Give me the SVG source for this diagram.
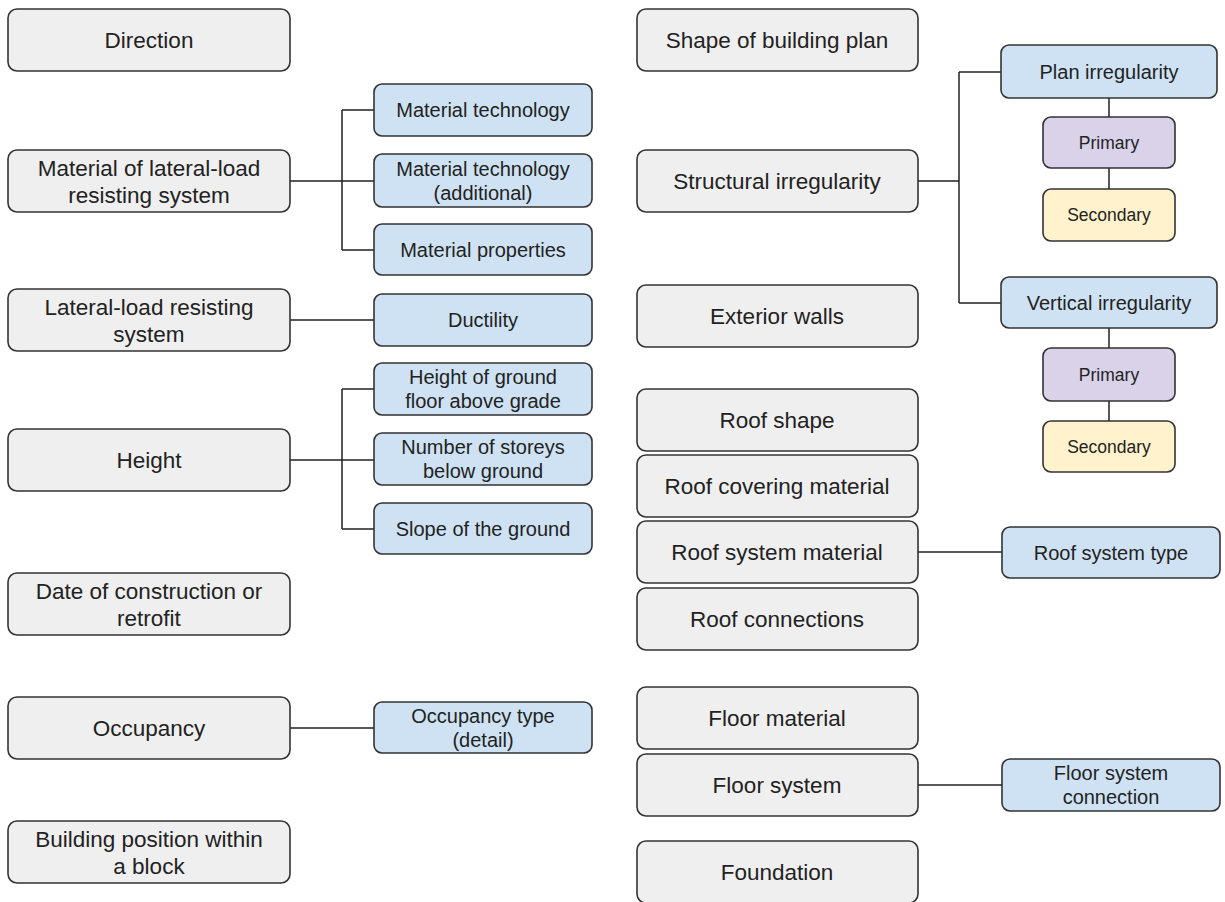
<svg xmlns="http://www.w3.org/2000/svg" width="1225" height="902" viewBox="0 0 1225 902">
<style>
rect{stroke:#333;stroke-width:1.6}
.g{fill:#efefef}
.b{fill:#cfe2f3}
.p{fill:#d9d2e9}
.y{fill:#fff2cc}
text{font-family:"Liberation Sans",Arial,sans-serif;fill:#222;text-anchor:middle;dominant-baseline:central}
.t1{font-size:22.5px}
.t2{font-size:20px}
.t3{font-size:17.5px}
.c{fill:none;stroke:#222;stroke-width:1.5}
</style>
<rect width="1225" height="902" fill="#fff" style="stroke:none"/>
<g id="connectors">
<path class="c" d="M290 181H342M342 110V250M342 110H374M342 181H374M342 250H374"/>
<path class="c" d="M290 320H374"/>
<path class="c" d="M290 460H342M342 389V529M342 389H374M342 460H374M342 529H374"/>
<path class="c" d="M290 728H374"/>
<path class="c" d="M918 181H959M959 72V303M959 72H1001M959 303H1001"/>
<path class="c" d="M1109 98V117M1109 168V189M1109 328V348M1109 401V421"/>
<path class="c" d="M918 552H1002"/>
<path class="c" d="M918 785H1002"/>
</g>
<g id="n-direction"><rect class="g" x="8" y="9" width="282" height="62" rx="9"/><text class="t1" x="149" y="40">Direction</text></g>
<g id="n-material"><rect class="g" x="8" y="150" width="282" height="62" rx="9"/><text class="t1" x="149" y="168">Material of lateral-load</text><text class="t1" x="149" y="195">resisting system</text></g>
<g id="n-llrs"><rect class="g" x="8" y="289" width="282" height="62" rx="9"/><text class="t1" x="149" y="307">Lateral-load resisting</text><text class="t1" x="149" y="334">system</text></g>
<g id="n-height"><rect class="g" x="8" y="429" width="282" height="62" rx="9"/><text class="t1" x="149" y="460">Height</text></g>
<g id="n-date"><rect class="g" x="8" y="573" width="282" height="62" rx="9"/><text class="t1" x="149" y="591">Date of construction or</text><text class="t1" x="149" y="618">retrofit</text></g>
<g id="n-occupancy"><rect class="g" x="8" y="697" width="282" height="62" rx="9"/><text class="t1" x="149" y="728">Occupancy</text></g>
<g id="n-position"><rect class="g" x="8" y="821" width="282" height="62" rx="9"/><text class="t1" x="149" y="839">Building position within</text><text class="t1" x="149" y="866">a block</text></g>

<g id="n-mattech"><rect class="b" x="374" y="84" width="218" height="52" rx="8"/><text class="t2" x="483" y="110">Material technology</text></g>
<g id="n-mattechadd"><rect class="b" x="374" y="154" width="218" height="53" rx="8"/><text class="t2" x="483" y="169">Material technology</text><text class="t2" x="483" y="193">(additional)</text></g>
<g id="n-matprop"><rect class="b" x="374" y="224" width="218" height="51" rx="8"/><text class="t2" x="483" y="250">Material properties</text></g>
<g id="n-ductility"><rect class="b" x="374" y="294" width="218" height="52" rx="8"/><text class="t2" x="483" y="320">Ductility</text></g>
<g id="n-hgf"><rect class="b" x="374" y="363" width="218" height="52" rx="8"/><text class="t2" x="483" y="377">Height of ground</text><text class="t2" x="483" y="401">floor above grade</text></g>
<g id="n-storeys"><rect class="b" x="374" y="433" width="218" height="52" rx="8"/><text class="t2" x="483" y="447">Number of storeys</text><text class="t2" x="483" y="471">below ground</text></g>
<g id="n-slope"><rect class="b" x="374" y="503" width="218" height="51" rx="8"/><text class="t2" x="483" y="529">Slope of the ground</text></g>
<g id="n-occtype"><rect class="b" x="374" y="702" width="218" height="51" rx="8"/><text class="t2" x="483" y="716">Occupancy type</text><text class="t2" x="483" y="740">(detail)</text></g>

<g id="n-shape"><rect class="g" x="637" y="9" width="281" height="62" rx="9"/><text class="t1" x="777" y="40">Shape of building plan</text></g>
<g id="n-structirr"><rect class="g" x="637" y="150" width="281" height="62" rx="9"/><text class="t1" x="777" y="181">Structural irregularity</text></g>
<g id="n-extwalls"><rect class="g" x="637" y="285" width="281" height="62" rx="9"/><text class="t1" x="777" y="316">Exterior walls</text></g>
<g id="n-roofshape"><rect class="g" x="637" y="389" width="281" height="62" rx="9"/><text class="t1" x="777" y="420">Roof shape</text></g>
<g id="n-roofcover"><rect class="g" x="637" y="455" width="281" height="62" rx="9"/><text class="t1" x="777" y="486">Roof covering material</text></g>
<g id="n-roofsys"><rect class="g" x="637" y="521" width="281" height="62" rx="9"/><text class="t1" x="777" y="552">Roof system material</text></g>
<g id="n-roofconn"><rect class="g" x="637" y="588" width="281" height="62" rx="9"/><text class="t1" x="777" y="619">Roof connections</text></g>
<g id="n-floormat"><rect class="g" x="637" y="687" width="281" height="62" rx="9"/><text class="t1" x="777" y="718">Floor material</text></g>
<g id="n-floorsys"><rect class="g" x="637" y="754" width="281" height="62" rx="9"/><text class="t1" x="777" y="785">Floor system</text></g>
<g id="n-foundation"><rect class="g" x="637" y="841" width="281" height="62" rx="9"/><text class="t1" x="777" y="872">Foundation</text></g>

<g id="n-planirr"><rect class="b" x="1001" y="45" width="216" height="53" rx="8"/><text class="t2" x="1109" y="72">Plan irregularity</text></g>
<g id="n-prim1"><rect class="p" x="1043" y="117" width="132" height="51" rx="8"/><text class="t3" x="1109" y="143">Primary</text></g>
<g id="n-sec1"><rect class="y" x="1043" y="189" width="132" height="52" rx="8"/><text class="t3" x="1109" y="215">Secondary</text></g>
<g id="n-vertirr"><rect class="b" x="1001" y="277" width="216" height="51" rx="8"/><text class="t2" x="1109" y="303">Vertical irregularity</text></g>
<g id="n-prim2"><rect class="p" x="1043" y="348" width="132" height="53" rx="8"/><text class="t3" x="1109" y="375">Primary</text></g>
<g id="n-sec2"><rect class="y" x="1043" y="421" width="132" height="51" rx="8"/><text class="t3" x="1109" y="447">Secondary</text></g>
<g id="n-rooftype"><rect class="b" x="1002" y="527" width="218" height="51" rx="8"/><text class="t2" x="1111" y="553">Roof system type</text></g>
<g id="n-floorconn"><rect class="b" x="1002" y="759" width="218" height="52" rx="8"/><text class="t2" x="1111" y="773">Floor system</text><text class="t2" x="1111" y="797">connection</text></g>
</svg>
